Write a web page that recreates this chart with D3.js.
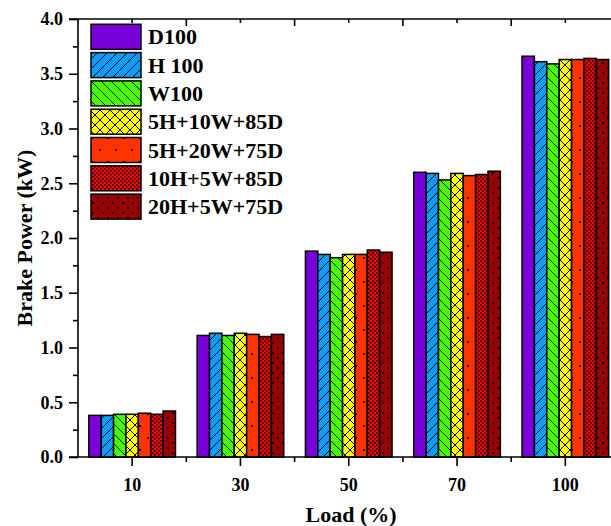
<!DOCTYPE html>
<html><head><meta charset="utf-8">
<script src="https://cdn.jsdelivr.net/npm/d3@7"></script>
<style>body{margin:0;background:#fff}svg{display:block}text{font-family:"Liberation Serif","Times New Roman",serif;font-weight:bold;fill:#000}</style>
</head><body><svg id="c" width="611" height="526"></svg>
<script>
const categories = ["10","30","50","70","100"];
const series = ["D100","H 100","W100","5H+10W+85D","5H+20W+75D","10H+5W+85D","20H+5W+75D"];
const D100 = [0.38, 1.11, 1.88, 2.60, 3.66];
const H100 = [0.38, 1.13, 1.85, 2.59, 3.61];
const W100 = [0.39, 1.11, 1.82, 2.53, 3.59];
const H5W10D85 = [0.39, 1.13, 1.85, 2.59, 3.63];
const H5W20D75 = [0.40, 1.12, 1.85, 2.57, 3.63];
const H10W5D85 = [0.39, 1.10, 1.89, 2.58, 3.64];
const H20W5D75 = [0.42, 1.12, 1.87, 2.61, 3.63];
const yTicks = [0,0.5,1.0,1.5,2.0,2.5,3.0,3.5,4.0];
const seriesValues = [D100,H100,W100,H5W10D85,H5W20D75,H10W5D85,H20W5D75];

(function(){
const svg = d3.select("#c");
const pL = 78, pR = 619.5, pT = 19, pB = 457;
const x = d3.scaleBand().domain(categories).range([pL, pR]).paddingInner(0.2).paddingOuter(0.1);
const xb = d3.scaleBand().domain(categories).range([pL, pR]);
const xi = d3.scaleBand().domain(series).range([0, x.bandwidth()]);
const y = d3.scaleLinear().domain([0,4]).range([pB, pT]);

// patterns
const defs = svg.append("defs");
function pat(id, w, h, bg, draw){
  const p = defs.append("pattern").attr("id", id).attr("patternUnits","userSpaceOnUse").attr("width",w).attr("height",h);
  p.append("rect").attr("width",w).attr("height",h).attr("fill",bg);
  draw(p);
}
pat("p1",10,10,"#0A9CF7",p=>p.append("path").attr("d","M0,10L10,0M-2,2L2,-2M8,12L12,8").attr("stroke","#000").attr("stroke-width",1));
pat("p2",10,10,"#44FF00",p=>p.append("path").attr("d","M0,0L10,10M-2,8L2,12M8,-2L12,2").attr("stroke","#000").attr("stroke-width",1));
pat("p3",10,10,"#FFFF00",p=>p.append("path").attr("d","M0,10L10,0M-2,2L2,-2M8,12L12,8M0,0L10,10M-2,8L2,12M8,-2L12,2").attr("stroke","#000").attr("stroke-width",1));
pat("p4",16,24,"#FF3300",p=>{p.append("rect").attr("x",3).attr("y",5).attr("width",2).attr("height",2).attr("fill","#000");p.append("rect").attr("x",11).attr("y",17).attr("width",2).attr("height",2).attr("fill","#000");});
pat("p5",4,4,"#FF0000",p=>{p.append("rect").attr("x",0).attr("y",0).attr("width",1.6).attr("height",1.6).attr("fill","#000");p.append("rect").attr("x",2).attr("y",2).attr("width",1.6).attr("height",1.6).attr("fill","#000");});
pat("p6",10,10,"#990000",p=>{p.append("rect").attr("x",2).attr("y",2).attr("width",2).attr("height",2).attr("fill","#000");p.append("rect").attr("x",7).attr("y",7).attr("width",2).attr("height",2).attr("fill","#000");});
const fills = ["#7A00D9","url(#p1)","url(#p2)","url(#p3)","url(#p4)","url(#p5)","url(#p6)"];

// bars
series.forEach((s,si)=>{
  svg.append("g").selectAll("rect").data(categories).join("rect")
    .attr("x", c=>x(c)+xi(s))
    .attr("y", (c,ci)=>y(seriesValues[si][ci]))
    .attr("width", xi.bandwidth())
    .attr("height", (c,ci)=>y(0)-y(seriesValues[si][ci]))
    .attr("fill", fills[si]).attr("stroke","#000").attr("stroke-width",1.5);
});

// frame
const axisG = svg.append("g").attr("stroke","#000").attr("stroke-width",1.6).attr("fill","none");
axisG.append("line").attr("x1",pL).attr("x2",pL).attr("y1",pT).attr("y2",pB);
axisG.append("line").attr("x1",pL-9).attr("x2",pR).attr("y1",pB).attr("y2",pB);
axisG.append("line").attr("x1",pL-9).attr("x2",pR).attr("y1",pT).attr("y2",pT);

// y axis
const yAxis = d3.axisLeft(y).tickValues(yTicks).tickFormat(d3.format(".1f")).tickSize(9).tickPadding(6);
const gy = svg.append("g").attr("transform",`translate(${pL},0)`).call(yAxis);
gy.select(".domain").remove();
gy.selectAll(".tick line").attr("stroke-width",1.6);
gy.selectAll("text").style("font-size","18px").style("font-family","Liberation Serif, serif").style("font-weight","bold");
const yMinor = d3.axisLeft(y).tickValues(yTicks.slice(0,-1).map(v=>v+0.25)).tickSize(5).tickFormat("");
const gym = svg.append("g").attr("transform",`translate(${pL},0)`).call(yMinor);
gym.select(".domain").remove(); gym.selectAll(".tick line").attr("stroke-width",1.6);

// x axis
const xAxis = d3.axisBottom(x).tickSize(9).tickPadding(12);
const gx = svg.append("g").attr("transform",`translate(0,${pB})`).call(xAxis);
gx.select(".domain").remove();
gx.selectAll(".tick line").attr("stroke-width",1.6);
gx.selectAll("text").style("font-size","18px").style("font-family","Liberation Serif, serif").style("font-weight","bold");
const boundaries = categories.slice(1).map(c=>xb(c));
svg.append("g").selectAll("line").data(boundaries).join("line")
  .attr("x1",d=>d).attr("x2",d=>d).attr("y1",pB).attr("y2",pB+5).attr("stroke","#000").attr("stroke-width",1.6);
// top ticks (inward)
svg.append("g").selectAll("line").data(categories).join("line")
  .attr("x1",c=>x(c)+x.bandwidth()/2).attr("x2",c=>x(c)+x.bandwidth()/2).attr("y1",pT).attr("y2",pT+4).attr("stroke","#000").attr("stroke-width",1.6);
svg.append("g").selectAll("line").data(boundaries).join("line")
  .attr("x1",d=>d).attr("x2",d=>d).attr("y1",pT).attr("y2",pT+7).attr("stroke","#000").attr("stroke-width",1.6);

// titles
svg.append("text").attr("x",351).attr("y",522).attr("text-anchor","middle").style("font-size","22px").text("Load (%)");
svg.append("text").attr("transform",`translate(32,${(pT+pB)/2}) rotate(-90)`).attr("text-anchor","middle").style("font-size","22px").text("Brake Power (kW)");

// legend
const lg = svg.append("g");
series.forEach((s,i)=>{
  const yy = 24.3 + i*28.3;
  lg.append("rect").attr("x",91).attr("y",yy).attr("width",50).attr("height",25).attr("fill",fills[i]).attr("stroke","#000").attr("stroke-width",1.5);
  lg.append("text").attr("x",148).attr("y",yy+20).style("font-size","22px").text(s);
});
})();
</script></body></html>
